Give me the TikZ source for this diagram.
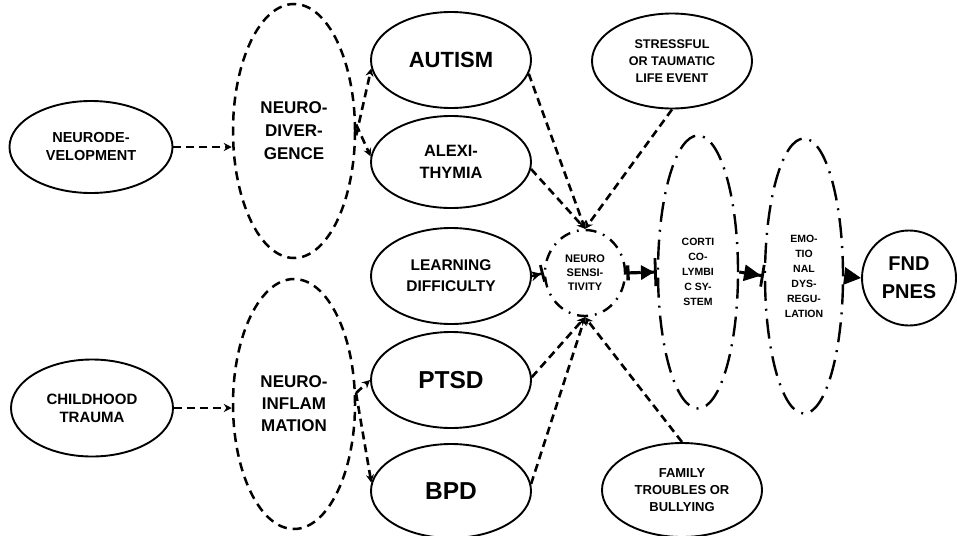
\documentclass[tikz,border=0pt]{standalone}
\usepackage{fontspec}
\setmainfont{Liberation Sans}
\usetikzlibrary{shapes.geometric,arrows.meta}
\newcommand{\myfs}[2]{\fontsize{#1}{#2}\selectfont\bfseries}
\tikzset{
  base/.style={ellipse, draw, inner sep=0pt, align=center, black},
  sol/.style={base, line width=1.9pt},
  dsh/.style={base, line width=2.5pt, dash pattern=on 9pt off 6pt},
  dd/.style={base, line width=2.4pt, dash pattern=on 11pt off 7pt on 1.8pt off 7pt},
  ddl/.style={base, line width=2.4pt, dash pattern=on 20pt off 8pt on 2pt off 8pt},
  conn/.style={line width=2.6pt, dash pattern=on 8pt off 5pt, -{Stealth[length=8pt,width=8pt]}},
  bigconn/.style={line width=3.2pt, dash pattern=on 12pt off 4pt},
}
\begin{document}
\begin{tikzpicture}[x=1pt,y=-1pt]
\fill[white] (0,0) rectangle (957,535);
\useasboundingbox (0,0) rectangle (957,535);

% left column
\node[sol, minimum width=163pt, minimum height=92pt, font=\myfs{14.5}{18}] (dev) at (91,147) {NEURODE-\\VELOPMENT};
\node[sol, minimum width=162pt, minimum height=97pt, font=\myfs{15}{18}] (trauma) at (92,408) {CHILDHOOD\\TRAUMA};

% dashed big ellipses
\node[dsh, minimum width=122pt, minimum height=254pt, font=\myfs{17}{23}] (div) at (294,131) {NEURO-\\DIVER-\\GENCE};
\node[dsh, minimum width=122pt, minimum height=250pt, font=\myfs{17}{22}] (infl) at (294,404) {NEURO-\\INFLAM\\MATION};

% middle column
\node[sol, minimum width=160pt, minimum height=96pt, font=\myfs{22}{26}] (autism) at (451,60) {AUTISM};
\node[sol, minimum width=160pt, minimum height=92pt, font=\myfs{16.4}{21.5}] (alexi) at (451,162) {ALEXI-\\THYMIA};
\node[sol, minimum width=160pt, minimum height=96pt, font=\myfs{15.5}{21}] (ld) at (451,276) {LEARNING\\DIFFICULTY};
\node[sol, minimum width=160pt, minimum height=96pt, font=\myfs{24.5}{28}] (ptsd) at (451,380) {PTSD};
\node[sol, minimum width=160pt, minimum height=94pt, font=\myfs{24.5}{28}] (bpd) at (451,491) {BPD};

% neuro sensitivity
\node[dd, minimum width=80pt, minimum height=86pt, font=\myfs{11}{14}] (ns) at (585,273) {NEURO\\SENSI-\\TIVITY};

% life events
\node[sol, minimum width=160pt, minimum height=95pt, font=\myfs{12.6}{17}] (stress) at (672,61) {STRESSFUL\\OR TAUMATIC\\LIFE EVENT};
\node[sol, minimum width=160pt, minimum height=94pt, font=\myfs{13}{16.7}] (family) at (682,490) {FAMILY\\TROUBLES OR\\BULLYING};

% right column
\node[ddl, minimum width=80pt, minimum height=273pt, font=\myfs{10.5}{15}] (cort) at (698,272) {CORTI\\CO-\\LYMBI\\C SY-\\STEM};
\node[ddl, minimum width=78pt, minimum height=275pt, font=\myfs{10.5}{15}] (emo) at (804,276) {EMO-\\TIO\\NAL\\DYS-\\REGU-\\LATION};
\node[sol, minimum width=94pt, minimum height=95pt, font=\myfs{20}{28}] (fnd) at (909,278) {FND\\PNES};

% connectors
\draw[conn] (dev.east) -- (dev.east -| div.west);
\draw[conn] (trauma.east) -- (trauma.east -| infl.west);
\draw[conn] (div.-4) -- (autism.186);
\draw[conn] (div.6) -- (alexi.176);
\draw[conn] (infl.10) -- (ptsd.west);
\draw[conn] (infl.10) -- (bpd.174);
\draw[conn] (autism.-10) -- (ns.north);
\draw[conn] (alexi.-5) -- (ns.north);
\draw[conn] (stress.south) -- (ns.north);
\draw[line width=2.4pt, -{Stealth[length=10pt,width=10pt] Bar[width=17pt,line width=2.8pt]}] (ld.east) -- (ns.west);
\draw[conn] (ptsd.2) -- (ns.south);
\draw[conn] (bpd.5) -- (ns.south);
\draw[conn] (family.north) -- (ns.south);
\draw[bigconn, {Bar[width=15pt,line width=3.4pt]}-{Triangle[length=13pt,width=14pt] Bar[width=28pt,line width=2.8pt]}] (ns.east) -- (cort.west);
\draw[line width=3pt, -{Triangle[length=17pt,width=16pt] Bar[width=22pt,line width=2.8pt]}] (cort.east) -- (emo.west);
\draw[line width=3pt, -{Triangle[length=17pt,width=17pt]}] (emo.east) -- (fnd.west);
\end{tikzpicture}
\end{document}
